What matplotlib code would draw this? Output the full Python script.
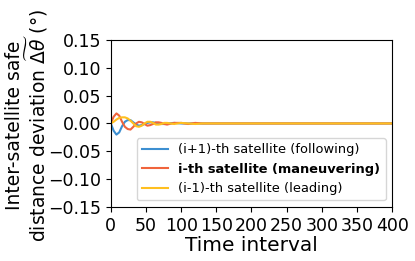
import matplotlib
matplotlib.use("Agg")
import matplotlib.pyplot as plt

# time samples (curves are flat after ~150)
t = [0, 4, 8, 12, 16, 20, 24, 28, 32, 36, 40, 44, 48, 52, 56, 60, 64, 68, 72, 76, 80,
     90, 100, 110, 120, 130, 150, 200, 250, 300, 350, 400]

following = [0.0, -0.013, -0.020, -0.016, -0.005, 0.003, 0.006, 0.006, 0.002, -0.002,
             -0.004, -0.003, -0.001, 0.001, 0.002, 0.002, 0.001, -0.001, -0.001, -0.001,
             0.000, 0.001, 0.000, 0.000, 0.000, 0.000, 0.000, 0.000, 0.000, 0.000, 0.000, 0.000]
maneuvering = [0.0, 0.012, 0.018, 0.014, 0.003, -0.006, -0.010, -0.011, -0.006, 0.000,
               0.003, 0.002, -0.001, -0.004, -0.003, -0.001, 0.002, 0.002, 0.001, -0.001,
               -0.002, 0.001, 0.001, -0.001, 0.001, 0.000, 0.000, 0.000, 0.000, 0.000, 0.000, 0.000]
leading = [0.0, 0.003, 0.007, 0.010, 0.011, 0.011, 0.009, 0.005, 0.000, -0.005,
           -0.006, -0.004, 0.000, 0.003, 0.003, 0.001, -0.002, -0.002, -0.001, 0.001,
           0.001, -0.001, 0.001, 0.000, -0.001, 0.000, 0.000, 0.000, 0.000, 0.000, 0.000, 0.000]

yticks = [-0.15, -0.10, -0.05, 0.00, 0.05, 0.10, 0.15]
xticks = [0, 50, 100, 150, 200, 250, 300, 350, 400]

fig = plt.figure(figsize=(4.15, 2.61), dpi=100)
ax = fig.add_axes([0.267, 0.207, 0.678, 0.640])

ax.plot(t, following, color="#3d8fd1", linewidth=1.5, label="(i+1)-th satellite (following)")
ax.plot(t, maneuvering, color="#f0643c", linewidth=1.5, label="i-th satellite (maneuvering)")
ax.plot(t, leading, color="#ffbf1f", linewidth=1.5, label="(i-1)-th satellite (leading)")

ax.set_xlim(0, 400)
ax.set_ylim(-0.15, 0.15)
ax.set_xticks(xticks)
ax.set_yticks(yticks)
ax.set_yticklabels([f"{v:.2f}".replace("-", "\u2212") for v in yticks])
ax.tick_params(labelsize=12.5)

ax.set_xlabel("Time interval", fontsize=14.5, labelpad=1)
ax.set_ylabel("Inter-satellite safe\ndistance deviation $\\widetilde{\\Delta\\theta}$ (°)",
              fontsize=13.5, linespacing=1.0)
ax.yaxis.set_label_coords(-0.215, 0.49)

leg = ax.legend(loc="lower right", fontsize=9.4)
leg.get_texts()[1].set_fontweight("bold")

fig.savefig("out.png", dpi=100)
